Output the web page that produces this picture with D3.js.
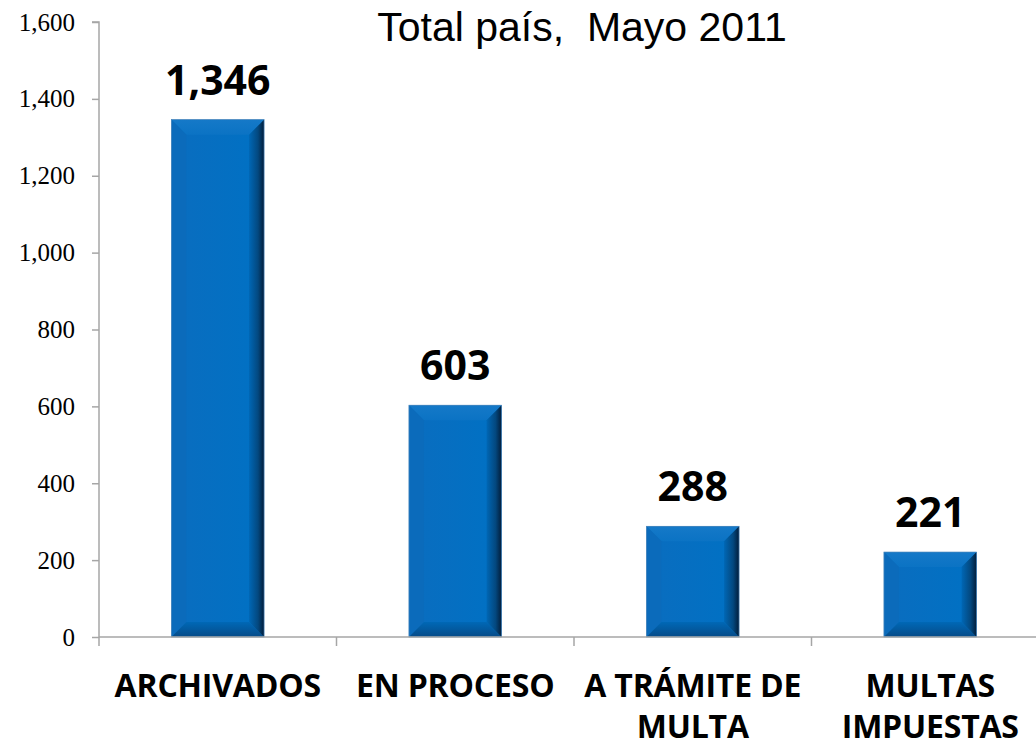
<!DOCTYPE html>
<html>
<head>
<meta charset="utf-8">
<script src="https://cdn.jsdelivr.net/npm/d3@7"></script>
<style>
  body { margin: 0; background: #fff; }
  svg { display: block; }
</style>
</head>
<body>
<svg id="chart" width="1036" height="742"></svg>
<script>
// chart data
const categories = ["ARCHIVADOS", "EN PROCESO", "A TRÁMITE DE MULTA", "MULTAS IMPUESTAS"];
const values = [1346, 603, 288, 221];
const yTicks = [0, 200, 400, 600, 800, 1000, 1200, 1400, 1600];
const title = "Total país,  Mayo 2011";

const svg = d3.select("#chart");
const margin = { left: 99, top: 22 };

const x = d3.scaleBand()
    .domain(categories)
    .range([margin.left, 1049])
    .paddingInner(0.61)
    .paddingOuter(0.305);

const y = d3.scaleLinear()
    .domain([0, 1600])
    .range([637, margin.top]);

const fmt = d3.format(",");

// gradients for bevelled bars
const defs = svg.append("defs");
function grad(id, x2, y2, stops) {
    const g = defs.append("linearGradient").attr("id", id)
        .attr("x1", 0).attr("y1", 0).attr("x2", x2).attr("y2", y2);
    stops.forEach(s => g.append("stop").attr("offset", s[0]).attr("stop-color", s[1]));
}
grad("faceFill", 1, 0, [["0%", "#0a6dbf"], ["100%", "#0071c4"]]);
grad("rightFill", 1, 0, [["0%", "#0067b5"], ["60%", "#03487f"], ["100%", "#021d3a"]]);
grad("bottomFill", 0, 1, [["0%", "#0068b6"], ["100%", "#064b88"]]);
grad("topFill", 0, 1, [["0%", "#1579c8"], ["100%", "#0b73c4"]]);

// title
svg.append("text")
    .attr("x", 582).attr("y", 41)
    .attr("text-anchor", "middle")
    .style("font-family", "Liberation Sans, Arial, sans-serif")
    .style("font-size", "41px")
    .style("white-space", "pre")
    .text(title);

// y axis
const yAxis = svg.append("g")
    .attr("transform", `translate(${margin.left},0)`)
    .call(d3.axisLeft(y).tickValues(yTicks).tickFormat(fmt).tickSize(7).tickPadding(17));
yAxis.selectAll("path, line").attr("stroke", "#a6a6a6").attr("stroke-width", 1.5);
yAxis.select(".domain").attr("d", `M-7,${y(1600)}H0V${y(0)}`);
yAxis.selectAll("text")
    .style("font-family", "Liberation Serif, Times New Roman, serif")
    .style("font-size", "25px")
    .attr("fill", "#000");

// bars
const bev = 15;
const barG = svg.append("g").selectAll("g.bar")
    .data(categories)
    .enter().append("g")
    .attr("class", "bar");

barG.each(function(c, i) {
    const g = d3.select(this);
    const x0 = x(c), w = x.bandwidth();
    const y0 = y(values[i]), y1 = y(0);
    const x1 = x0 + w;
    const b = Math.min(bev, (y1 - y0) / 2);
    g.append("rect")
        .attr("x", x0).attr("y", y0)
        .attr("width", w).attr("height", y1 - y0)
        .attr("fill", "url(#faceFill)");
    g.append("path")
        .attr("d", `M${x0},${y0}L${x1},${y0}L${x1 - b},${y0 + b}L${x0 + b},${y0 + b}Z`)
        .attr("fill", "url(#topFill)");
    g.append("path")
        .attr("d", `M${x0},${y0}L${x0 + b},${y0 + b}L${x0 + b},${y1 - b}L${x0},${y1}Z`)
        .attr("fill", "#0b6bbb");
    g.append("path")
        .attr("d", `M${x0},${y1}L${x0 + b},${y1 - b}L${x1 - b},${y1 - b}L${x1},${y1}Z`)
        .attr("fill", "url(#bottomFill)");
    g.append("path")
        .attr("d", `M${x1},${y0}L${x1},${y1}L${x1 - b},${y1 - b}L${x1 - b},${y0 + b}Z`)
        .attr("fill", "url(#rightFill)");
    g.append("rect")
        .attr("x", x0).attr("y", y0)
        .attr("width", w).attr("height", y1 - y0)
        .attr("fill", "none").attr("stroke", "#4a86bb").attr("stroke-width", 0.7);

    // value label
    g.append("text")
        .attr("x", x0 + w / 2).attr("y", y0 - 25)
        .attr("text-anchor", "middle")
        .style("font-family", "Open Sans, Lato, sans-serif")
        .style("font-weight", "bold")
        .style("font-size", "41px")
        .text(fmt(values[i]));
});

// x axis
const xAxis = svg.append("g")
    .attr("transform", `translate(0,${y(0)})`);
xAxis.append("line")
    .attr("x1", margin.left).attr("x2", 1036)
    .attr("stroke", "#a6a6a6").attr("stroke-width", 1.5);
xAxis.selectAll("line.tick")
    .data(categories)
    .enter().append("line")
    .attr("class", "tick")
    .attr("x1", d => x(d) - (x.step() - x.bandwidth()) / 2)
    .attr("x2", d => x(d) - (x.step() - x.bandwidth()) / 2)
    .attr("y1", 0).attr("y2", 9)
    .attr("stroke", "#a6a6a6").attr("stroke-width", 1.5);

// category labels (wrapped)
const wrapped = {
    "A TRÁMITE DE MULTA": ["A TRÁMITE DE", "MULTA"],
    "MULTAS IMPUESTAS": ["MULTAS", "IMPUESTAS"]
};
const catText = svg.append("g").selectAll("text")
    .data(categories)
    .enter().append("text")
    .attr("y", 697)
    .attr("text-anchor", "middle")
    .style("font-family", "Open Sans, Lato, sans-serif")
    .style("font-weight", "bold")
    .style("font-size", "32px")
    .style("letter-spacing", "-0.2px");
catText.each(function(d) {
    const lines = wrapped[d] || [d];
    d3.select(this).selectAll("tspan")
        .data(lines)
        .enter().append("tspan")
        .attr("x", x(d) + x.bandwidth() / 2)
        .attr("dy", (l, j) => j === 0 ? 0 : 41)
        .text(l => l);
});
</script>
</body>
</html>
